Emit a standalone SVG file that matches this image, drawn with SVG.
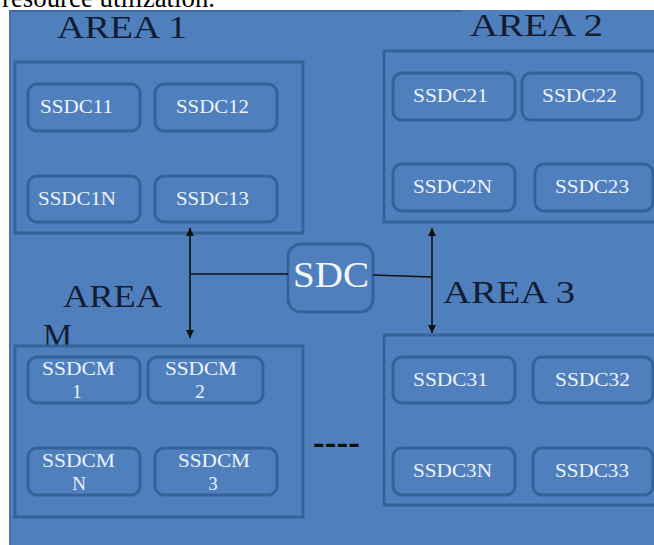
<svg xmlns="http://www.w3.org/2000/svg" width="654" height="545" viewBox="0 0 654 545">
<style>
.bg{fill:#4f80bd}
.area{fill:none;stroke:#36629a;stroke-width:3}
.node rect{fill:#4f80bd;stroke:#36629a;stroke-width:3}
.lbl{font-family:"Liberation Serif",serif;font-size:19px;fill:#eef3fb}
.area-lbl{font-family:"Liberation Serif",serif;font-size:32px;fill:#141c33}
.conn{stroke:#111;stroke-width:1.6;fill:none}
</style>
<defs>
<marker id="ah" viewBox="0 0 10 10" refX="10" refY="5" markerWidth="8" markerHeight="8" markerUnits="userSpaceOnUse" orient="auto-start-reverse">
<path d="M0,0 L10,5 L0,10 Z" fill="#111"/>
</marker>
</defs>
<rect width="654" height="545" fill="#fff"/>
<text x="2" y="7" font-family="Liberation Serif,serif" font-size="27" fill="#000" textLength="213" lengthAdjust="spacingAndGlyphs">resource utilization.</text>
<rect class="bg" x="9" y="10" width="645" height="535"/>
<line x1="9" y1="11" x2="462" y2="11" stroke="#3d68a3" stroke-width="2"/>
<line x1="10" y1="10" x2="10" y2="545" stroke="#4573b0" stroke-width="2"/>

<g id="area1">
<rect class="area" x="15" y="62" width="288" height="171"/>
<text class="area-lbl" x="57" y="38" textLength="130" lengthAdjust="spacingAndGlyphs">AREA 1</text>
</g>
<g id="area2">
<rect class="area" x="384" y="51" width="280" height="171"/>
<text class="area-lbl" x="470" y="36" textLength="133" lengthAdjust="spacingAndGlyphs">AREA 2</text>
</g>
<g id="areaM">
<text class="area-lbl" x="63" y="307" textLength="99" lengthAdjust="spacingAndGlyphs">AREA</text>
<text class="area-lbl" x="43" y="346" textLength="29" lengthAdjust="spacingAndGlyphs">M</text>
<rect class="area" x="15" y="346" width="288" height="171"/>
</g>
<g id="area3">
<rect class="area" x="384" y="335" width="280" height="170"/>
<text class="area-lbl" x="443" y="303" textLength="132" lengthAdjust="spacingAndGlyphs">AREA 3</text>
</g>

<g id="ssdc11" class="node"><rect x="28" y="84" width="112" height="47" rx="9"/><text class="lbl" x="40" y="113" textLength="73" lengthAdjust="spacingAndGlyphs">SSDC11</text></g>
<g id="ssdc12" class="node"><rect x="155" y="84" width="122" height="47" rx="9"/><text class="lbl" x="176" y="113" textLength="73" lengthAdjust="spacingAndGlyphs">SSDC12</text></g>
<g id="ssdc1n" class="node"><rect x="28" y="176" width="112" height="46" rx="9"/><text class="lbl" x="38" y="205" textLength="78" lengthAdjust="spacingAndGlyphs">SSDC1N</text></g>
<g id="ssdc13" class="node"><rect x="155" y="176" width="122" height="46" rx="9"/><text class="lbl" x="176" y="205" textLength="73" lengthAdjust="spacingAndGlyphs">SSDC13</text></g>

<g id="ssdc21" class="node"><rect x="393" y="73" width="122" height="47" rx="9"/><text class="lbl" x="413" y="102" textLength="75" lengthAdjust="spacingAndGlyphs">SSDC21</text></g>
<g id="ssdc22" class="node"><rect x="522" y="73" width="120" height="47" rx="9"/><text class="lbl" x="542" y="102" textLength="75" lengthAdjust="spacingAndGlyphs">SSDC22</text></g>
<g id="ssdc2n" class="node"><rect x="393" y="164" width="122" height="47" rx="9"/><text class="lbl" x="413" y="193" textLength="79" lengthAdjust="spacingAndGlyphs">SSDC2N</text></g>
<g id="ssdc23" class="node"><rect x="535" y="164" width="118" height="47" rx="9"/><text class="lbl" x="555" y="193" textLength="74" lengthAdjust="spacingAndGlyphs">SSDC23</text></g>

<g id="ssdcm1" class="node"><rect x="28" y="357" width="112" height="46" rx="9"/><text class="lbl" x="42" y="375" textLength="73" lengthAdjust="spacingAndGlyphs">SSDCM</text><text class="lbl" x="77" y="398" text-anchor="middle">1</text></g>
<g id="ssdcm2" class="node"><rect x="148" y="357" width="115" height="46" rx="9"/><text class="lbl" x="165" y="375" textLength="72" lengthAdjust="spacingAndGlyphs">SSDCM</text><text class="lbl" x="200" y="398" text-anchor="middle">2</text></g>
<g id="ssdcmn" class="node"><rect x="28" y="448" width="112" height="47" rx="9"/><text class="lbl" x="42" y="467" textLength="73" lengthAdjust="spacingAndGlyphs">SSDCM</text><text class="lbl" x="79" y="490" text-anchor="middle">N</text></g>
<g id="ssdcm3" class="node"><rect x="155" y="448" width="122" height="47" rx="9"/><text class="lbl" x="178" y="467" textLength="72" lengthAdjust="spacingAndGlyphs">SSDCM</text><text class="lbl" x="213" y="490" text-anchor="middle">3</text></g>

<g id="ssdc31" class="node"><rect x="393" y="357" width="122" height="46" rx="9"/><text class="lbl" x="413" y="386" textLength="75" lengthAdjust="spacingAndGlyphs">SSDC31</text></g>
<g id="ssdc32" class="node"><rect x="533" y="357" width="120" height="46" rx="9"/><text class="lbl" x="555" y="386" textLength="75" lengthAdjust="spacingAndGlyphs">SSDC32</text></g>
<g id="ssdc3n" class="node"><rect x="393" y="448" width="122" height="47" rx="9"/><text class="lbl" x="413" y="477" textLength="79" lengthAdjust="spacingAndGlyphs">SSDC3N</text></g>
<g id="ssdc33" class="node"><rect x="533" y="448" width="120" height="47" rx="9"/><text class="lbl" x="555" y="477" textLength="74" lengthAdjust="spacingAndGlyphs">SSDC33</text></g>

<g id="sdc" class="node"><rect x="288" y="244" width="85" height="68" rx="13"/><text x="293" y="287" font-family="Liberation Serif,serif" font-size="35" fill="#f4f7fc" textLength="76" lengthAdjust="spacingAndGlyphs">SDC</text></g>

<g id="connectors">
<line class="conn" x1="190" y1="228" x2="190" y2="338" marker-start="url(#ah)" marker-end="url(#ah)"/>
<line class="conn" x1="190" y1="274" x2="288" y2="274"/>
<line class="conn" x1="432" y1="228" x2="432" y2="333" marker-start="url(#ah)" marker-end="url(#ah)"/>
<line class="conn" x1="373" y1="275" x2="432" y2="277"/>
<text x="313" y="453" font-family="Liberation Sans,sans-serif" font-weight="bold" font-size="28" fill="#111" textLength="47" lengthAdjust="spacingAndGlyphs">----</text>
</g>
</svg>
